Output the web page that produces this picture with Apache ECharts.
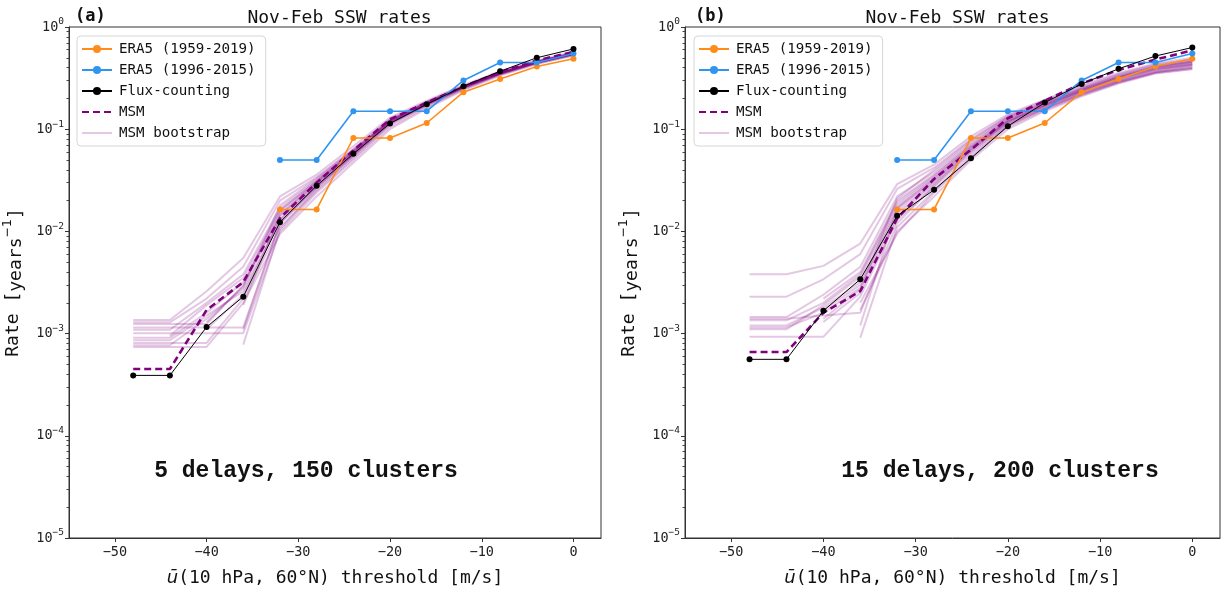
<!DOCTYPE html>
<html>
<head>
<meta charset="utf-8">
<script src="https://cdn.jsdelivr.net/npm/echarts@6/dist/echarts.min.js"></script>
<style>
html,body{margin:0;padding:0;background:#fff;}
#chart{width:1225px;height:592px;}
</style>
</head>
<body>
<div id="chart"></div>
<script>
// ---------------- DATA ----------------
const thresholds = [-48, -44, -40, -36, -32, -28, -24, -20, -16, -12, -8, -4, 0];
const xTickValues = [-50, -40, -30, -20, -10, 0];
const yTickValues = [1e-5, 1e-4, 1e-3, 1e-2, 1e-1, 1];

// ERA5 observations (same in both panels)
const era5_1959_2019 = [null, null, null, null, 0.0164, 0.0164, 0.082, 0.082, 0.115, 0.23, 0.31, 0.41, 0.49];
const era5_1996_2015 = [null, null, null, null, 0.05, 0.05, 0.15, 0.15, 0.15, 0.30, 0.45, 0.45, 0.55];

// Panel (a): 5 delays, 150 clusters
const fluxA = [3.9e-4, 3.9e-4, 1.16e-3, 2.3e-3, 0.0123, 0.028, 0.0575, 0.114, 0.175, 0.263, 0.369, 0.50, 0.61];
const msmA  = [4.5e-4, 4.5e-4, 1.7e-3, 3.2e-3, 0.0135, 0.030, 0.062, 0.125, 0.182, 0.262, 0.36, 0.47, 0.57];
const bootA1  = [1.36e-3, 1.36e-3, 2.6e-3, 5.5e-3, 0.022, 0.036, 0.068, 0.130, 0.190, 0.270, 0.370, 0.470, 0.570];
const bootA2  = [1.29e-3, 1.29e-3, 2.2e-3, 4.5e-3, 0.020, 0.034, 0.064, 0.125, 0.185, 0.265, 0.360, 0.460, 0.560];
const bootA3  = [1.24e-3, 1.24e-3, 1.24e-3, 3.0e-3, 0.016, 0.031, 0.060, 0.120, 0.180, 0.260, 0.355, 0.455, 0.550];
const bootA4  = [1.15e-3, 1.15e-3, 1.15e-3, 1.15e-3, 0.012, 0.027, 0.056, 0.115, 0.175, 0.255, 0.350, 0.450, 0.540];
const bootA5  = [1.09e-3, 1.09e-3, 2.0e-3, 3.8e-3, 0.017, 0.032, 0.062, 0.122, 0.182, 0.262, 0.358, 0.458, 0.555];
const bootA6  = [1.01e-3, 1.01e-3, 1.01e-3, 1.01e-3, 0.010, 0.024, 0.050, 0.105, 0.165, 0.245, 0.340, 0.440, 0.530];
const bootA7  = [9.1e-4, 9.1e-4, 1.6e-3, 3.2e-3, 0.014, 0.029, 0.058, 0.118, 0.178, 0.258, 0.352, 0.452, 0.545];
const bootA8  = [8.6e-4, 8.6e-4, 1.5e-3, 2.6e-3, 0.013, 0.028, 0.057, 0.116, 0.176, 0.256, 0.350, 0.450, 0.545];
const bootA9  = [8.1e-4, 8.1e-4, 8.1e-4, 2.2e-3, 0.011, 0.025, 0.052, 0.110, 0.170, 0.250, 0.345, 0.445, 0.535];
const bootA10 = [7.7e-4, 7.7e-4, 1.4e-3, 2.8e-3, 0.015, 0.030, 0.059, 0.119, 0.180, 0.260, 0.355, 0.455, 0.550];
const bootA11 = [7.4e-4, 7.4e-4, 7.4e-4, 2.0e-3, 0.0095, 0.022, 0.047, 0.100, 0.160, 0.240, 0.335, 0.435, 0.525];
const bootA12 = [null, 9.5e-4, 1.9e-3, 3.5e-3, 0.016, 0.031, 0.061, 0.121, 0.181, 0.261, 0.356, 0.456, 0.552];
const bootA13 = [null, null, 1.1e-3, 2.4e-3, 0.013, 0.028, 0.057, 0.117, 0.177, 0.257, 0.352, 0.452, 0.548];
const bootA14 = [null, null, null, 7.8e-4, 0.0105, 0.026, 0.054, 0.112, 0.172, 0.252, 0.347, 0.447, 0.540];
const bootA15 = [null, null, null, 1.1e-3, 0.012, 0.027, 0.055, 0.114, 0.174, 0.254, 0.349, 0.449, 0.543];
const bootA16 = [null, null, 1.3e-3, 2.9e-3, 0.018, 0.033, 0.063, 0.124, 0.184, 0.264, 0.359, 0.460, 0.560];
const bootA17 = [null, null, null, 1.9e-3, 0.0145, 0.030, 0.060, 0.120, 0.180, 0.260, 0.355, 0.455, 0.550];

// Panel (b): 15 delays, 200 clusters
const fluxB = [5.6e-4, 5.6e-4, 1.67e-3, 3.4e-3, 0.0142, 0.0255, 0.052, 0.107, 0.182, 0.277, 0.39, 0.52, 0.63];
const msmB  = [6.6e-4, 6.6e-4, 1.6e-3, 2.6e-3, 0.0134, 0.0326, 0.063, 0.128, 0.19, 0.28, 0.38, 0.48, 0.59];
const bootB1  = [3.8e-3, 3.8e-3, 4.6e-3, 7.6e-3, 0.029, 0.045, 0.085, 0.140, 0.195, 0.270, 0.355, 0.440, 0.500];
const bootB2  = [2.3e-3, 2.3e-3, 3.4e-3, 6.0e-3, 0.026, 0.042, 0.080, 0.135, 0.190, 0.260, 0.345, 0.430, 0.480];
const bootB3  = [1.45e-3, 1.45e-3, 2.4e-3, 4.5e-3, 0.022, 0.038, 0.075, 0.130, 0.180, 0.250, 0.330, 0.410, 0.460];
const bootB4  = [1.4e-3, 1.4e-3, 1.5e-3, 1.6e-3, 0.012, 0.028, 0.062, 0.118, 0.172, 0.240, 0.320, 0.400, 0.450];
const bootB5  = [1.35e-3, 1.35e-3, 2.0e-3, 3.8e-3, 0.019, 0.035, 0.070, 0.125, 0.178, 0.245, 0.325, 0.405, 0.455];
const bootB6  = [1.2e-3, 1.2e-3, 1.8e-3, 3.2e-3, 0.017, 0.032, 0.066, 0.120, 0.170, 0.235, 0.310, 0.385, 0.430];
const bootB7  = [1.15e-3, 1.15e-3, 1.6e-3, 2.8e-3, 0.015, 0.030, 0.063, 0.115, 0.165, 0.230, 0.300, 0.375, 0.420];
const bootB8  = [1.1e-3, 1.1e-3, 1.9e-3, 3.6e-3, 0.018, 0.034, 0.068, 0.122, 0.174, 0.242, 0.320, 0.395, 0.440];
const bootB9  = [9.3e-4, 9.3e-4, 9.3e-4, 2.3e-3, 0.013, 0.027, 0.058, 0.110, 0.160, 0.220, 0.290, 0.360, 0.400];
const bootB10 = [null, null, 1.7e-3, 3.0e-3, 0.016, 0.031, 0.064, 0.117, 0.168, 0.232, 0.305, 0.380, 0.425];
const bootB11 = [null, null, null, 9.1e-4, 0.011, 0.025, 0.055, 0.105, 0.155, 0.215, 0.285, 0.355, 0.390];
const bootB12 = [null, null, 1.3e-3, 2.5e-3, 0.014, 0.029, 0.060, 0.112, 0.162, 0.225, 0.295, 0.365, 0.410];
const bootB13 = [null, null, null, 1.7e-3, 0.010, 0.022, 0.050, 0.100, 0.150, 0.210, 0.280, 0.350, 0.385];
const bootB14 = [null, null, 2.2e-3, 4.0e-3, 0.020, 0.036, 0.072, 0.128, 0.180, 0.248, 0.330, 0.410, 0.460];
const bootB15 = [null, null, null, 2.0e-3, 0.0095, 0.024, 0.052, 0.108, 0.158, 0.220, 0.290, 0.360, 0.400];
const bootB16 = [null, null, 1.4e-3, 2.7e-3, 0.021, 0.040, 0.078, 0.133, 0.185, 0.255, 0.340, 0.420, 0.470];
const bootB17 = [null, null, null, 1.2e-3, 0.017, 0.033, 0.067, 0.121, 0.172, 0.238, 0.315, 0.390, 0.435];

const bootA = [bootA1,bootA2,bootA3,bootA4,bootA5,bootA6,bootA7,bootA8,bootA9,bootA10,bootA11,bootA12,bootA13,bootA14,bootA15,bootA16,bootA17];
const bootB = [bootB1,bootB2,bootB3,bootB4,bootB5,bootB6,bootB7,bootB8,bootB9,bootB10,bootB11,bootB12,bootB13,bootB14,bootB15,bootB16,bootB17];

const panelTitles = ['Nov-Feb SSW rates', 'Nov-Feb SSW rates'];
const panelTags = ['(a)', '(b)'];
const panelNotes = ['5 delays, 150 clusters', '15 delays, 200 clusters'];
const legendNames = ['ERA5 (1959-2019)', 'ERA5 (1996-2015)', 'Flux-counting', 'MSM', 'MSM bootstrap'];

// ---------------- CHART ----------------
const MONO = 'DejaVu Sans Mono';
const SANS = 'DejaVu Sans';
const C_ORANGE = '#ff8c1a';
const C_BLUE = '#2f95f0';
const C_PURPLE = '#800080';
const C_BOOT = 'rgba(128,0,128,0.22)';

function pairs(vals) {
  const out = [];
  vals.forEach((v, i) => { if (v !== null) out.push([thresholds[i], v]); });
  return out;
}
function logLabel(v) {
  const e = Math.round(Math.log10(v));
  return '{b|10}{s|' + (e < 0 ? '\u2212' + Math.abs(e) : String(e)) + '}';
}
const minorVals = [];
for (let e = -5; e < 0; e++) for (let m = 2; m <= 9; m++) minorVals.push(m * Math.pow(10, e));

const grids = [
  {left: 68, top: 27, width: 533, height: 520},
  {left: 685, top: 27, width: 535, height: 520}
];

const option = {
  animation: false,
  backgroundColor: '#ffffff',
  grid: grids.map(g => Object.assign({show: true, borderColor: '#333', borderWidth: 1, backgroundColor: 'transparent'}, g)),
  xAxis: [0, 1].map(i => ({
    type: 'value', gridIndex: i, min: -55, max: 3,
    splitLine: {show: false},
    axisLine: {show: true, onZero: false, lineStyle: {color: '#333'}},
    axisTick: {show: true, customValues: xTickValues, length: 4, lineStyle: {color: '#333'}},
    axisLabel: {customValues: xTickValues, fontFamily: MONO, fontSize: 13.5, color: '#222', margin: 7,
      formatter: v => (v < 0 ? '\u2212' + Math.abs(v) : String(v))},
    name: '{it|\u016B}(10 hPa, 60\u00B0N) threshold [m/s]',
    nameLocation: 'middle', nameGap: 31,
    nameTextStyle: {fontFamily: MONO, fontSize: 18, color: '#111',
      rich: {it: {fontFamily: SANS, fontStyle: 'italic', fontSize: 18, color: '#111'}}}
  })),
  yAxis: [0, 1].flatMap(i => ([
    {
      type: 'log', logBase: 10, gridIndex: i, min: 1e-5, max: 1, position: 'left',
      splitLine: {show: false},
      axisLine: {show: true, onZero: false, lineStyle: {color: '#333'}},
      axisTick: {show: true, customValues: yTickValues, length: 4, lineStyle: {color: '#333'}},
      axisLabel: {customValues: yTickValues, margin: 5, color: '#222',
        formatter: v => logLabel(v),
        rich: {
          b: {fontFamily: MONO, fontSize: 13.5, color: '#222', lineHeight: 20},
          s: {fontFamily: MONO, fontSize: 9.5, color: '#222', lineHeight: 9, verticalAlign: 'top'}
        }},
      name: 'Rate [{s|years}{e|\u22121}{s|]}', nameLocation: 'middle', nameGap: 44,
      nameTextStyle: {fontFamily: MONO, fontSize: 18, color: '#111',
        rich: {
          s: {fontFamily: MONO, fontSize: 18, color: '#111', lineHeight: 24, padding: [6, 0, 0, 0]},
          e: {fontFamily: SANS, fontSize: 12.5, color: '#111', lineHeight: 14, verticalAlign: 'top'}
        }}
    },
    {
      type: 'log', logBase: 10, gridIndex: i, min: 1e-5, max: 1, position: 'left', offset: 0,
      splitLine: {show: false},
      axisLine: {show: false, onZero: false},
      axisTick: {show: true, customValues: minorVals, length: 2.5, lineStyle: {color: '#444'}},
      axisLabel: {show: false}
    }
  ])),
  legend: [0, 1].map(i => ({
    data: legendNames.map((n, k) => (k >= 3 ? {name: n, itemStyle: {opacity: 0}} : {name: n})),
    orient: 'vertical',
    left: grids[i].left + 9, top: 36,
    itemWidth: 30, itemHeight: 10, itemGap: 7,
    padding: [6, 10, 6, 4],
    backgroundColor: '#ffffff', borderColor: '#d6d6d6', borderWidth: 1, borderRadius: 4,
    textStyle: {fontFamily: MONO, fontSize: 14.2, color: '#111', padding: [0, 0, 0, 2]},
    selectedMode: false
  })),
  title: [
    {text: panelTitles[0], left: 68 + 533 / 2, textAlign: 'center', top: 4, textStyle: {fontFamily: MONO, fontSize: 18, fontWeight: 'normal', color: '#111'}},
    {text: panelTitles[1], left: 685 + 535 / 2, textAlign: 'center', top: 4, textStyle: {fontFamily: MONO, fontSize: 18, fontWeight: 'normal', color: '#111'}},
    {text: panelTags[0], left: 70, top: 3, textStyle: {fontFamily: MONO, fontSize: 17, fontWeight: 'bold', color: '#111'}},
    {text: panelTags[1], left: 690, top: 3, textStyle: {fontFamily: MONO, fontSize: 17, fontWeight: 'bold', color: '#111'}},
    {text: panelNotes[0], left: 301, textAlign: 'center', top: 455, textStyle: {fontFamily: 'Liberation Mono', fontSize: 23, fontWeight: 'bold', color: '#111'}},
    {text: panelNotes[1], left: 995, textAlign: 'center', top: 455, textStyle: {fontFamily: 'Liberation Mono', fontSize: 23, fontWeight: 'bold', color: '#111'}}
  ],
  series: []
};

function addPanel(i, boots, msm, flux) {
  const xi = i, yi = i * 2;
  boots.forEach(b => option.series.push({
    type: 'line', name: legendNames[4], xAxisIndex: xi, yAxisIndex: yi, data: pairs(b),
    showSymbol: false, symbol: 'none', silent: true, z: 1,
    lineStyle: {color: C_BOOT, width: 2}, itemStyle: {color: 'rgba(128,0,128,0.25)'}
  }));
  option.series.push({
    type: 'line', name: legendNames[3], xAxisIndex: xi, yAxisIndex: yi, data: pairs(msm),
    symbol: 'none', z: 3,
    lineStyle: {color: C_PURPLE, width: 2.6, type: [7, 4]}, itemStyle: {color: C_PURPLE}
  });
  option.series.push({
    type: 'line', name: legendNames[0], xAxisIndex: xi, yAxisIndex: yi, data: pairs(era5_1959_2019),
    symbol: 'circle', symbolSize: 6, z: 4,
    lineStyle: {color: C_ORANGE, width: 1.6}, itemStyle: {color: C_ORANGE}
  });
  option.series.push({
    type: 'line', name: legendNames[1], xAxisIndex: xi, yAxisIndex: yi, data: pairs(era5_1996_2015),
    symbol: 'circle', symbolSize: 6, z: 4,
    lineStyle: {color: C_BLUE, width: 1.6}, itemStyle: {color: C_BLUE}
  });
  option.series.push({
    type: 'line', name: legendNames[2], xAxisIndex: xi, yAxisIndex: yi, data: pairs(flux),
    symbol: 'circle', symbolSize: 6, z: 5,
    lineStyle: {color: '#000', width: 1}, itemStyle: {color: '#000'}
  });
}
addPanel(0, bootA, msmA, fluxA);
addPanel(1, bootB, msmB, fluxB);

const chart = echarts.init(document.getElementById('chart'), null, {renderer: 'canvas'});
chart.setOption(option);
</script>
</body>
</html>
